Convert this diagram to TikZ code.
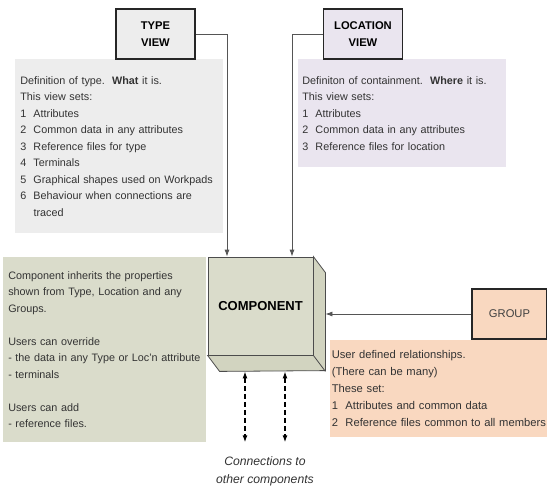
\documentclass[tikz,border=0pt]{standalone}
\usepackage{fontspec}
\setmainfont{Liberation Sans}
\usepackage{tikz}
\usetikzlibrary{arrows.meta,calc,patterns,shapes}
\definecolor{typegray}{HTML}{EDEDED}
\definecolor{locviolet}{HTML}{EAE5EF}
\definecolor{compgreen}{HTML}{DADCCB}
\definecolor{compside}{HTML}{D2D4C0}
\definecolor{grouppeach}{HTML}{F9D8C0}
\definecolor{linegray}{HTML}{555555}

\begin{document}
\begin{tikzpicture}[x=1pt,y=-1pt,>={Latex[length=7pt,width=5pt]},semithick,
                    font=\fontsize{10.8}{16.5}\selectfont]
  \tikzstyle{viewbox}=[rectangle,
                                    line width=1.6pt,
                                    draw=black!85,
                                    align=center,
                                    font=\fontsize{11.2}{17}\selectfont\bfseries,
                                    minimum width=79pt,
                                    minimum height=50pt]
  \tikzstyle{notebox}=[rectangle,
                                    anchor=north west,
                                    align=left,
                                    text=black!80]
  \tikzstyle{link}=[->,draw=linegray,line width=0.8pt]
  \tikzstyle{conn}=[<->,draw=black,line width=1.3pt,
                                    dash pattern=on 5pt off 3pt]
  \useasboundingbox (0,0) rectangle (547,491);
  %Cajas de texto
  \node[notebox,fill=typegray,inner xsep=5pt,text width=198pt,
        minimum height=174pt] (typetext) at (15,59) {%
    Definition of type.\ \ \textbf{What} it is.\\
    This view sets:\\
    1\ \ Attributes\\
    2\ \ Common data in any attributes\\
    3\ \ Reference files for type\\
    4\ \ Terminals\\
    5\ \ Graphical shapes used on Workpads\\
    6\ \ Behaviour when connections are\\
    \phantom{6\ \ }traced};
  \node[notebox,fill=locviolet,inner xsep=4pt,text width=200pt,
        minimum height=108pt] (loctext) at (298,59) {%
    Definiton of containment.\ \ \textbf{Where} it is.\\
    This view sets:\\
    1\ \ Attributes\\
    2\ \ Common data in any attributes\\
    3\ \ Reference files for location};
  \node[notebox,fill=compgreen,inner xsep=5pt,text width=193pt,
        minimum height=185pt] (comptext) at (3,257) {%
    Component inherits the properties\\
    shown from Type, Location and any\\
    Groups.\\[16.5pt]
    Users can override\\
    - the data in any Type or Loc'n attribute\\
    - terminals\\[16.5pt]
    Users can add\\
    - reference files.};
  \node[notebox,fill=grouppeach,inner xsep=1.5pt,text width=218pt,
        minimum height=97pt,font=\fontsize{11.2}{17}\selectfont]
        (grouptext) at (330,340) {%
    User defined relationships.\\
    (There can be many)\\
    These set:\\
    1\ \ Attributes and common data\\
    2\ \ Reference files common to all members};
  %Cajas de vista
  \node[viewbox,fill=typegray] (typeview) at (155.5,34) {TYPE\\VIEW};
  \node[viewbox,fill=locviolet] (locview) at (363,34) {LOCATION\\VIEW};
  \node[viewbox,fill=grouppeach,font=\fontsize{11.2}{17}\selectfont,
        text=black!75,minimum width=75pt] (group) at (509.5,314) {GROUP};
  %Componente
  \node[rectangle,draw=black!70,fill=compgreen,thick,minimum width=105pt,
        minimum height=98pt,font=\fontsize{13}{15}\selectfont\bfseries]
        (comp) at (260.5,306) {COMPONENT};
  \draw[draw=black!70,fill=compside,thick]
        (comp.north east) -- ++(12,16) -- ++(0,98) -- ($(comp.south west)+(12,16)$)
        -- (comp.south west) -- (comp.south east) -- cycle;
  \draw[draw=black!70,thick] (comp.south east) -- ++(12,16);
  \coordinate (sidein) at ($(comp.east)+(12,8)$);
  \coordinate (bota) at ($(comp.south)+(-15.5,16)$);
  \coordinate (botb) at ($(comp.south)+(24.5,16)$);
  \node[font=\fontsize{12.2}{18}\selectfont\itshape,align=center,
        text=black!80] (conntext) at (265,471) {Connections to\\other components};
  \coordinate (enda) at ($(bota)+(0,71)$);
  \coordinate (endb) at ($(botb)+(0,71)$);
  %Conectores
  \draw[link] (typeview.east) -| ([xshift=-33.5pt]comp.north);
  \draw[link] (locview.west) -| ([xshift=31.5pt]comp.north);
  \draw[link] (group.west) -- (sidein);
  \path (bota) edge[conn] (enda)
        (botb) edge[conn] (endb);
\end{tikzpicture}
\end{document}
